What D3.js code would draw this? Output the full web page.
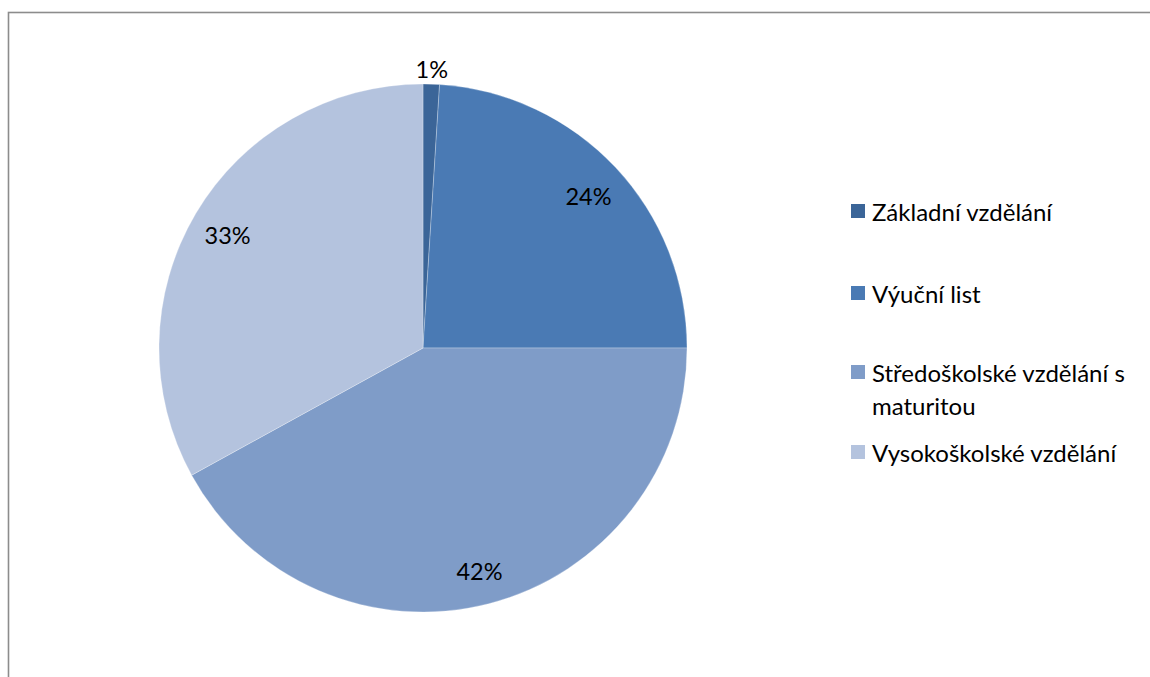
<!DOCTYPE html>
<html lang="cs">
<head>
<meta charset="utf-8">
<script src="https://cdn.jsdelivr.net/npm/d3@7"></script>
<style>
  html, body { margin: 0; padding: 0; background: #fff; }
  svg { display: block; }
  text { font-family: "Lato", "Noto Sans", sans-serif; fill: #000; }
</style>
</head>
<body>
<svg id="chart" width="1150" height="677"></svg>
<script>
// Podíl respondentů podle dosaženého vzdělání (v %)
const categories = [
  "Základní vzdělání",
  "Výuční list",
  "Středoškolské vzdělání s maturitou",
  "Vysokoškolské vzdělání"
];
const shares = [1, 24, 42, 33];
const colors = ["#3b6598", "#4a7ab4", "#7f9cc8", "#b4c3de"];

const W = 1150, H = 677;
const svg = d3.select("#chart");

// chart frame (runs off the right and bottom edges)
svg.append("rect")
  .attr("x", 8.5).attr("y", 12.5)
  .attr("width", W + 20).attr("height", H + 20)
  .attr("fill", "none")
  .attr("stroke", "#8c8c8c")
  .attr("stroke-width", 1.6);

const cx = 423, cy = 348, R = 264;

const data = categories.map((c, i) => ({ name: c, value: shares[i], color: colors[i] }));

const pie = d3.pie().value(d => d.value).sort(null);
const arcs = pie(data);

const arc = d3.arc().innerRadius(0).outerRadius(R);
const labelArc = d3.arc().innerRadius(R * 0.86).outerRadius(R * 0.86);
const outsideArc = d3.arc().innerRadius(R + 18).outerRadius(R + 18);

const g = svg.append("g").attr("transform", `translate(${cx},${cy})`);

g.selectAll("path.slice")
  .data(arcs)
  .join("path")
  .attr("class", "slice")
  .attr("d", arc)
  .attr("fill", d => d.data.color)
  .attr("stroke", "#ffffff")
  .attr("stroke-opacity", 0.45)
  .attr("stroke-width", 0.6);

const fmt = v => `${v}%`;

g.selectAll("text.val")
  .data(arcs)
  .join("text")
  .attr("class", "val")
  .attr("transform", d => {
    const small = (d.endAngle - d.startAngle) < 0.2;
    const p = (small ? outsideArc : labelArc).centroid(d);
    return `translate(${p[0]},${p[1] + 3})`;
  })
  .attr("text-anchor", "middle")
  .attr("dominant-baseline", "central")
  .attr("font-size", 23.5)
  .text(d => fmt(d.data.value));

// legend
const legX = 851, legTextX = 872, maxW = 285;
const rowY = [211, 293, 372, 452];
const lineH = 33;

const leg = svg.append("g").attr("class", "legend");
data.forEach((d, i) => {
  leg.append("rect")
    .attr("x", legX).attr("y", rowY[i] - 7)
    .attr("width", 14).attr("height", 14)
    .attr("fill", d.color);

  const t = leg.append("text")
    .attr("x", legTextX).attr("y", rowY[i])
    .attr("dominant-baseline", "central")
    .attr("font-size", 24);

  // wrap long labels word by word
  const words = d.name.split(" ");
  let line = [];
  let tspan = t.append("tspan").attr("x", legTextX).attr("y", rowY[i]);
  let lineNo = 0;
  words.forEach(w => {
    line.push(w);
    tspan.text(line.join(" "));
    if (tspan.node().getComputedTextLength() > maxW && line.length > 1) {
      line.pop();
      tspan.text(line.join(" "));
      line = [w];
      lineNo++;
      tspan = t.append("tspan")
        .attr("x", legTextX)
        .attr("y", rowY[i] + lineNo * lineH)
        .text(w);
    }
  });
});
</script>
</body>
</html>
